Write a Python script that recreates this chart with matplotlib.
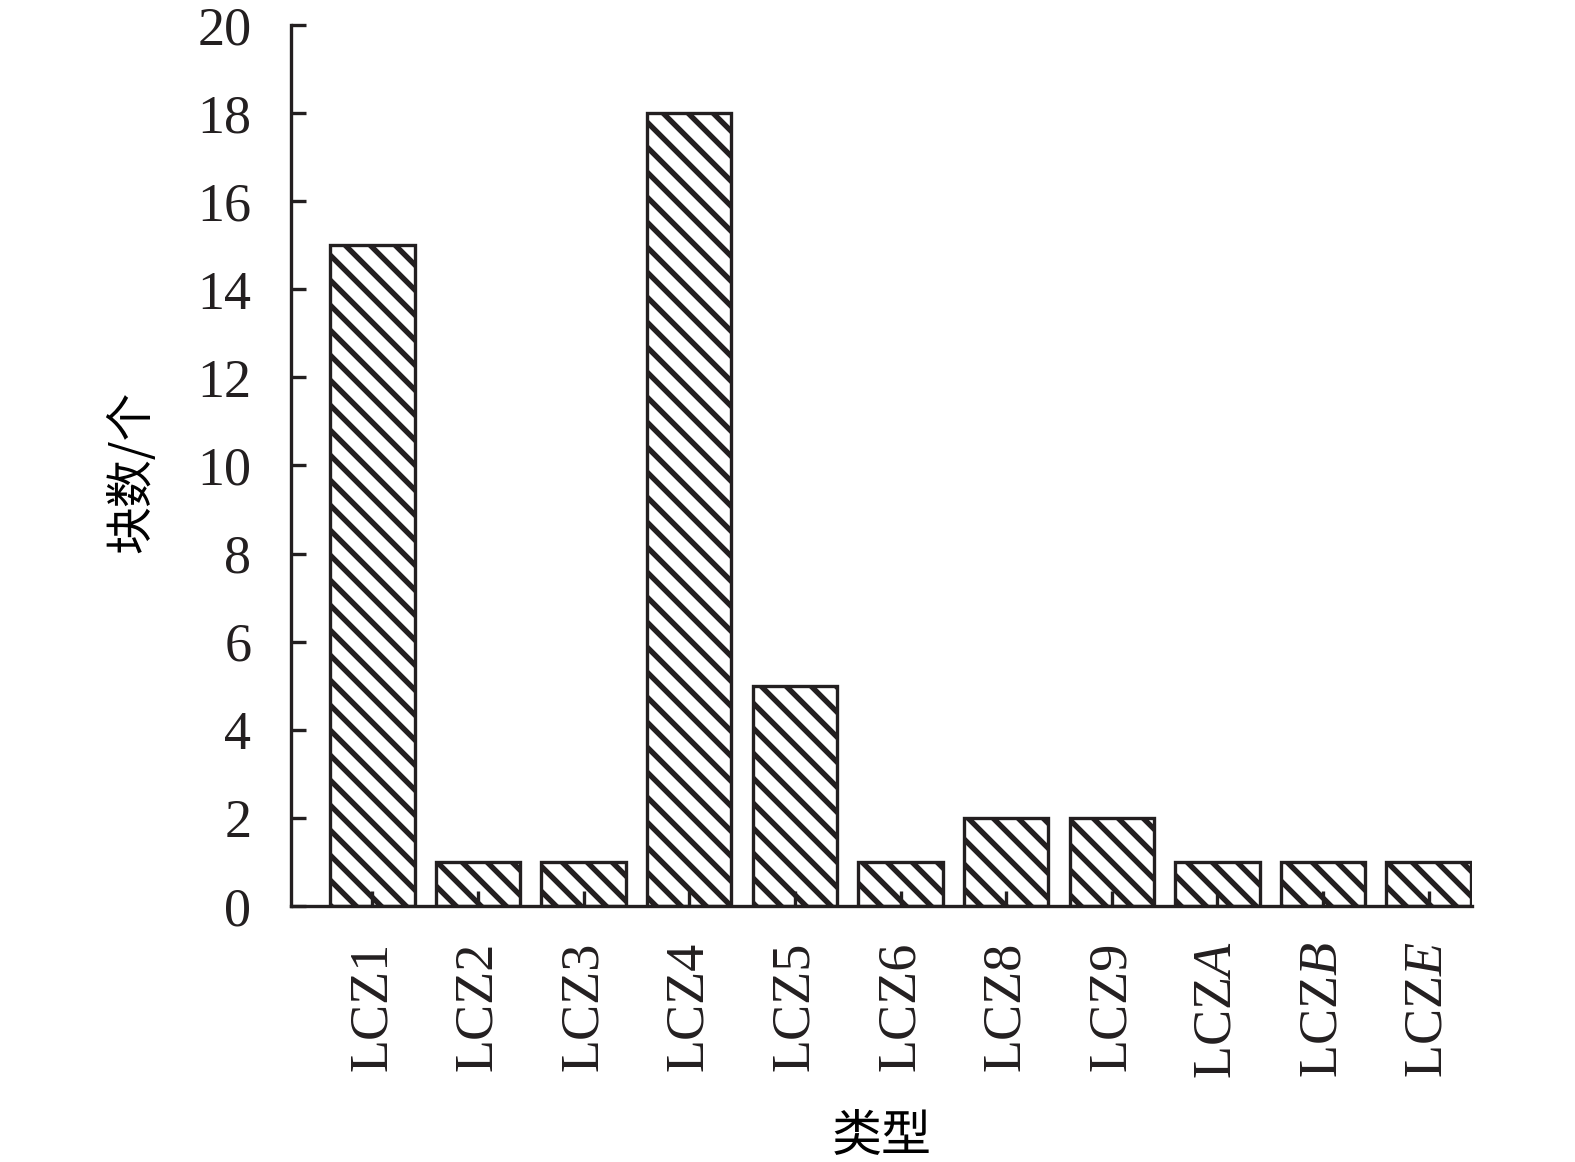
import matplotlib.pyplot as plt
import numpy as np

plt.rcParams['font.family'] = ['Liberation Serif', 'Noto Sans CJK SC']
plt.rcParams['mathtext.fontset'] = 'custom'
plt.rcParams['mathtext.rm'] = 'Liberation Serif'
plt.rcParams['mathtext.it'] = 'Liberation Serif:italic'
plt.rcParams['hatch.linewidth'] = 2.6

categories = ['LCZ1', 'LCZ2', 'LCZ3', 'LCZ4', 'LCZ5', 'LCZ6', 'LCZ8', 'LCZ9',
              r'LCZ$\mathit{A}$', r'LCZ$\mathit{B}$', r'LCZ$\mathit{E}$']
counts = [15, 1, 1, 18, 5, 1, 2, 2, 1, 1, 1]
yticks = np.arange(0, 21, 2)

fig = plt.figure(figsize=(10.5, 1162 / 150), dpi=150)
ax = fig.add_axes([291 / 1575, 1 - 906 / 1162, 1181 / 1575, 881 / 1162])

x = np.arange(len(categories))
ax.bar(x, counts, width=0.8, color='white', edgecolor='#231f20',
       linewidth=1.6, hatch='\\\\')

ax.set_xlim(-0.77, 10.41)
ax.set_ylim(0, 20)
ax.set_yticks(yticks)
ax.set_xticks(x)
ax.set_xticklabels(categories, rotation=90)

for s in ['top', 'right']:
    ax.spines[s].set_visible(False)
for s in ['left', 'bottom']:
    ax.spines[s].set_linewidth(1.6)
    ax.spines[s].set_color('#231f20')

ax.tick_params(axis='y', direction='in', length=7, width=1.6, pad=19,
               labelsize=26, colors='#231f20')
ax.tick_params(axis='x', direction='in', length=7, width=1.6, pad=17,
               labelsize=26, colors='#231f20')

ax.set_ylabel('块数/个', fontsize=23, family=['Noto Sans CJK SC'])
ax.yaxis.set_label_coords(-0.114, 0.493)
ax.set_xlabel('类型', fontsize=24, family=['Noto Sans CJK SC'])
ax.xaxis.set_label_coords(0.5, -0.232)

fig.savefig('out.png', dpi=150)
